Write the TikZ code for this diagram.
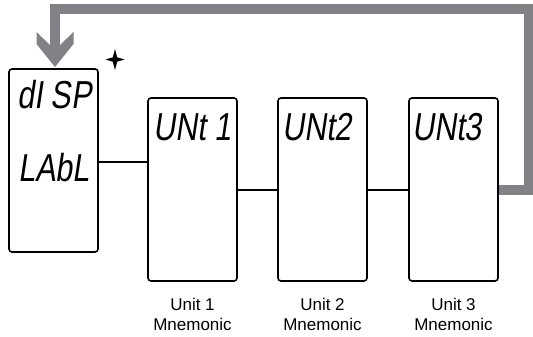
\documentclass[tikz,border=0pt]{standalone}
\usepackage{fontspec}
\setmainfont{Liberation Sans}
\newfontfamily\segfont[FakeSlant=0.15,FakeStretch=0.78]{Liberation Sans}
\definecolor{loopgrey}{RGB}{128,130,133}
\begin{document}
\begin{tikzpicture}[x=1pt,y=-1pt,
  lcd/.style={draw=black,line width=1.6pt,rounded corners=3pt,minimum width=89pt,minimum height=183pt,inner sep=0pt},
  seg/.style={font=\segfont\fontsize{39}{39}\selectfont,inner sep=0pt,anchor=base west},
  lab/.style={font=\fontsize{17}{20}\selectfont,align=center,inner sep=0pt,anchor=north},
  wire/.style={line width=1.6pt},
  loopline/.style={draw=loopgrey,line width=10pt}]
\useasboundingbox (0,0) rectangle (533,337);
% boxes
\node[lcd] (b0) at (53.5,160.5) {};
\node[lcd] (b1) at (192.5,189.5) {};
\node[lcd] (b2) at (322.5,189.5) {};
\node[lcd] (b3) at (453.5,189.5) {};
% display texts
\node[seg] (t0a) at (17,109) {dI SP};
\node[seg] (t0b) at (18,181) {LAbL};
\node[seg] (t1) at (153,140) {UNt 1};
\node[seg] (t2) at (282,140) {UNt2};
\node[seg] (t3) at (412,140) {UNt3};
% connectors
\coordinate (y1) at (0,162);
\coordinate (y2) at (0,190);
\draw[wire] (b0.east |- y1) -- (b1.west |- y1);
\draw[wire] (b1.east |- y2) -- (b2.west |- y2);
\draw[wire] (b2.east |- y2) -- (b3.west |- y2);
% labels
\node[lab] (l1) at ([yshift=-16.3pt]b1.south) {Unit 1\\Mnemonic};
\node[lab] (l2) at ([yshift=-16.3pt]b2.south) {Unit 2\\Mnemonic};
\node[lab] (l3) at ([yshift=-16.3pt]b3.south) {Unit 3\\Mnemonic};
% grey loop arrow
\coordinate (cR) at (529,189.5);
\coordinate (cTR) at (529,9);
\coordinate (cTL) at (55,9);
\coordinate (cS) at (55,48);
\draw[loopline] (b3.east) -- (cR) -- (cTR) -- (cTL) -- (cS);
\fill[loopgrey] (50,45) -- (36.5,32) -- (36.5,44) -- (55,67) -- (73.5,44) -- (73.5,32) -- (60,45) -- cycle;
% star
\coordinate (st) at (115,59.5);
\fill[shift={(st)}] (0,-10.5) -- (2.2,-2.2) -- (9.5,0) -- (2.2,2.2) -- (0,10.5) -- (-2.2,2.2) -- (-9.5,0) -- (-2.2,-2.2) -- cycle;
\end{tikzpicture}
\end{document}
